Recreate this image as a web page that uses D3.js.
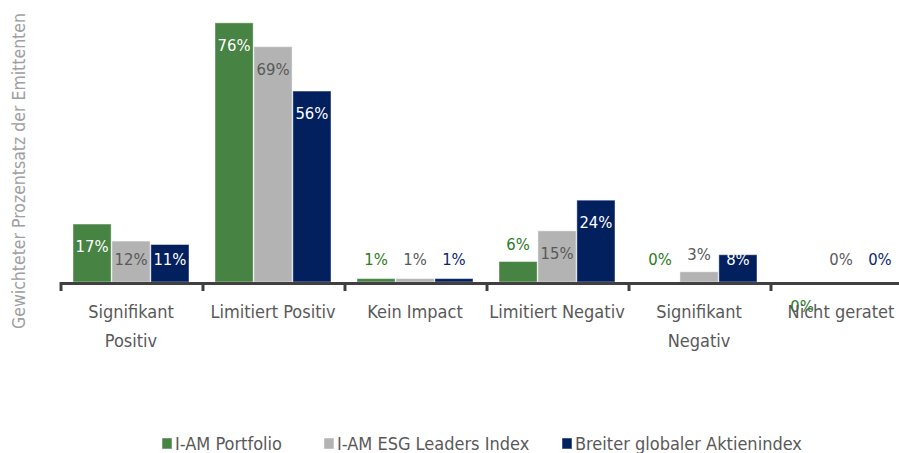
<!DOCTYPE html>
<html>
<head>
<meta charset="utf-8">
<script src="https://cdnjs.cloudflare.com/ajax/libs/d3/7.8.5/d3.min.js"></script>
<style>
  body { margin: 0; background: #fff; }
  svg { display: block; font-family: "Liberation Sans Narrow", "DejaVu Sans Condensed", sans-serif; }
</style>
</head>
<body>
<svg id="chart" width="899" height="453"></svg>
<script>
// categories (two-line labels split with \n)
var categories = ["Signifikant\nPositiv", "Limitiert Positiv", "Kein Impact", "Limitiert Negativ", "Signifikant\nNegativ", "Nicht geratet"];
var seriesNames = ["I-AM Portfolio", "I-AM ESG Leaders Index", "Breiter globaler Aktienindex"];
var portfolio = [17, 76, 1, 6, 0, 0];
var esgLeaders = [12, 69, 1, 15, 3, 0];
var globalIndex = [11, 56, 1, 24, 8, 0];

var fills = ["#478343", "#b3b3b3", "#03205e"];
var outsideColors = ["#2b7a24", "#595959", "#0b1f73"];
var insideColors = ["#ffffff", "#595959", "#ffffff"];

var svg = d3.select("#chart"),
    axisY = 282,
    left = 60,
    groupW = 142;

var x0 = d3.scaleBand()
    .domain(d3.range(categories.length))
    .range([left, left + groupW * categories.length]);

var x1 = d3.scaleBand()
    .domain(d3.range(seriesNames.length))
    .range([13, groupW - 13])
    .paddingInner(0.02);

var y = d3.scaleLinear().domain([0, 80]).range([axisY, axisY - 80 * 3.41]);

var series = [portfolio, esgLeaders, globalIndex];
var rows = [];
series.forEach(function(vals, s) {
    vals.forEach(function(v, c) {
        rows.push({s: s, c: c, v: v});
    });
});

// bars
svg.append("g").selectAll("rect")
    .data(rows)
    .enter().append("rect")
    .attr("x", function(d) { return x0(d.c) + x1(d.s); })
    .attr("y", function(d) { return y(d.v); })
    .attr("width", x1.bandwidth())
    .attr("height", function(d) { return axisY - y(d.v); })
    .attr("fill", function(d) { return fills[d.s]; })
    .attr("stroke", "rgba(255,255,255,0.45)")
    .attr("stroke-width", 1);

// value labels
svg.append("g").selectAll("text")
    .data(rows)
    .enter().append("text")
    .attr("text-anchor", "middle")
    .attr("font-size", 16.5)
    .attr("x", function(d) { return x0(d.c) + x1(d.s) + x1.bandwidth() / 2; })
    .attr("y", function(d) {
        var top = y(d.v);
        // odd stray label in the original, sits below the axis
        if (d.c == categories.length - 1 && d.s == 0) return axisY + 30;
        if (d.v >= 7) return Math.min(top + 28, axisY - 17);
        return Math.min(axisY - 17, top - 12);
    })
    .attr("fill", function(d) { return d.v >= 7 ? insideColors[d.s] : outsideColors[d.s]; })
    .text(function(d) { return d.v + "%"; });

// x axis line and ticks
var ax = svg.append("g");
ax.append("line")
    .attr("x1", left).attr("x2", 899)
    .attr("y1", axisY + 1.5).attr("y2", axisY + 1.5)
    .attr("stroke", "#404040").attr("stroke-width", 3);
ax.selectAll(".tick")
    .data(d3.range(categories.length))
    .enter().append("line")
    .attr("x1", function(d) { return x0(d) + 1; })
    .attr("x2", function(d) { return x0(d) + 1; })
    .attr("y1", axisY).attr("y2", axisY + 9)
    .attr("stroke", "#404040").attr("stroke-width", 3);

// category labels
var cl = svg.append("g").selectAll("text")
    .data(categories)
    .enter().append("text")
    .attr("text-anchor", "middle")
    .attr("font-size", 18)
    .attr("fill", "#595959")
    .attr("x", function(d, i) { return x0(i) + groupW / 2; })
    .attr("y", 318);
cl.each(function(d, i) {
    var t = d3.select(this);
    d.split("\n").forEach(function(part, k) {
        t.append("tspan")
            .attr("x", x0(i) + groupW / 2)
            .attr("dy", k == 0 ? 0 : 29)
            .text(part);
    });
});

// y axis title
svg.append("text")
    .attr("transform", "translate(25,171) rotate(-90)")
    .attr("text-anchor", "middle")
    .attr("font-size", 17.5)
    .attr("fill", "#a0a0a0")
    .text("Gewichteter Prozentsatz der Emittenten");

// legend
var legendX = [162, 324, 562];
var lg = svg.append("g").selectAll("g")
    .data(seriesNames)
    .enter().append("g")
    .attr("transform", function(d, i) { return "translate(" + legendX[i] + ",0)"; });
lg.append("rect")
    .attr("x", 0).attr("y", 438)
    .attr("width", 10).attr("height", 11)
    .attr("fill", function(d, i) { return fills[i]; })
    .attr("stroke", "rgba(255,255,255,0.5)");
lg.append("text")
    .attr("x", 13).attr("y", 450)
    .attr("font-size", 18)
    .attr("fill", "#595959")
    .text(function(d) { return d; });
</script>
</body>
</html>
